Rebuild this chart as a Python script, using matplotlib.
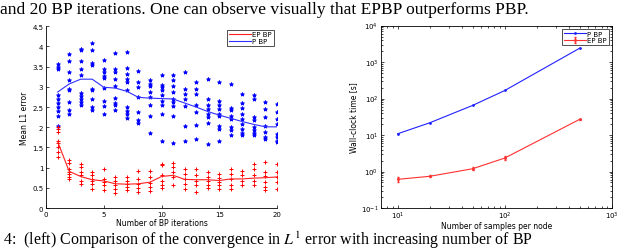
#!/usr/bin/env python3
import matplotlib
matplotlib.use("Agg")
import matplotlib.pyplot as plt
import numpy as np

# ---- left panel: L1 error vs BP iterations ----
iterations = list(range(1, 21))

pbp_samples = [
    [3.56, 3.49, 3.43, 2.81, 2.70, 2.61, 2.50, 2.39, 2.28, 2.02],
    [3.82, 3.63, 3.36, 3.16, 2.95, 2.92, 2.62, 2.42, 2.33],
    [3.94, 3.92, 3.65, 3.45, 3.30, 2.84, 2.78, 2.70, 2.62, 2.54],
    [4.08, 3.92, 3.59, 3.55, 2.95, 2.91, 2.70, 2.51, 2.42],
    [3.67, 3.45, 3.36, 3.26, 3.22, 2.97, 2.66, 2.52, 2.33],
    [3.84, 3.43, 3.38, 3.20, 3.03, 2.72, 2.60, 2.54, 2.43],
    [3.87, 3.46, 3.32, 3.20, 3.12, 2.93, 2.50, 2.40, 2.32, 2.23],
    [3.40, 3.12, 2.99, 2.76, 2.37, 2.17, 2.11],
    [3.18, 3.08, 3.02, 2.87, 2.75, 2.54, 2.29, 1.85],
    [3.30, 3.05, 2.99, 2.91, 2.79, 2.66, 2.54, 2.33, 1.67],
    [3.30, 3.16, 3.02, 2.87, 2.70, 2.62, 2.52, 2.28, 1.62],
    [3.36, 2.95, 2.83, 2.70, 2.52, 2.04, 1.67],
    [3.12, 2.95, 2.83, 2.54, 2.37, 2.06, 1.71],
    [3.20, 2.70, 2.56, 2.46, 2.33, 2.25, 2.10, 1.59],
    [3.12, 2.66, 2.56, 2.46, 2.33, 2.28, 2.03, 1.96, 1.67],
    [3.08, 2.47, 2.42, 2.29, 2.21, 2.00, 1.92, 1.81],
    [2.83, 2.60, 2.47, 2.33, 2.21, 2.09, 1.96, 1.86, 1.81],
    [2.80, 2.70, 2.25, 2.17, 2.00, 1.92, 1.85, 1.80],
    [2.62, 2.46, 2.25, 2.04, 1.88, 1.76, 1.71],
    [2.58, 2.37, 2.21, 2.09, 1.84, 1.76, 1.67, 1.63],
]
pbp_mean = [2.87, 3.07, 3.19, 3.19, 2.99, 2.97, 2.89, 2.74, 2.72, 2.71,
            2.70, 2.60, 2.50, 2.39, 2.30, 2.22, 2.14, 2.07, 2.01, 2.01]

epbp_samples = [
    [2.00, 1.95, 1.88, 1.67, 1.62, 1.51, 1.39, 1.26],
    [1.18, 1.11, 0.97, 0.89, 0.85, 0.77, 0.73],
    [1.10, 1.01, 0.89, 0.81, 0.68, 0.60],
    [0.89, 0.81, 0.73, 0.68, 0.60, 0.48],
    [0.97, 0.73, 0.64, 0.56, 0.44],
    [0.77, 0.68, 0.58, 0.48, 0.38],
    [0.77, 0.68, 0.60, 0.52, 0.44],
    [0.91, 0.73, 0.60, 0.49, 0.40],
    [0.91, 0.77, 0.63, 0.52, 0.41],
    [1.10, 1.06, 0.81, 0.68, 0.56, 0.49],
    [1.11, 1.01, 0.89, 0.77, 0.56],
    [0.97, 0.85, 0.73, 0.60, 0.48],
    [0.97, 0.81, 0.68, 0.56, 0.40],
    [0.89, 0.77, 0.66, 0.58, 0.49],
    [0.85, 0.74, 0.64, 0.56, 0.46],
    [0.97, 0.85, 0.73, 0.56, 0.46],
    [0.91, 0.81, 0.68, 0.56],
    [1.10, 0.97, 0.81, 0.68, 0.56],
    [1.15, 0.89, 0.79, 0.64, 0.52, 0.44],
    [1.10, 0.89, 0.77, 0.64, 0.48],
]
epbp_mean = [1.65, 0.91, 0.78, 0.70, 0.67, 0.60, 0.59, 0.60, 0.64, 0.78,
             0.81, 0.71, 0.70, 0.70, 0.68, 0.72, 0.72, 0.74, 0.75, 0.77]

# ---- right panel: wall-clock time vs samples per node ----
samples_per_node = [10, 20, 50, 100, 500]
pbp_time = [10.8, 21.7, 64.6, 166, 2400]
epbp_time = [0.61, 0.74, 1.19, 2.34, 27]
epbp_err_lo = [0.08, 0.05, 0.12, 0.25, 1.0]
epbp_err_hi = [0.10, 0.06, 0.15, 0.30, 1.0]

plt.rcParams['mathtext.fontset'] = 'stix'
fig = plt.figure(figsize=(6.4, 2.51), dpi=100)

tick_fs = 5
label_fs = 5.5

# left axes
ax1 = fig.add_axes([0.0719, 0.1673, 0.3609, 0.724])
for x, ys in zip(iterations, pbp_samples):
    ax1.plot([x] * len(ys), ys, linestyle='none', marker='*', color='#0000ff',
             markersize=3, markeredgewidth=0.6)
for x, ys in zip(iterations, epbp_samples):
    ax1.plot([x] * len(ys), ys, linestyle='none', marker='+', color='#ff0000',
             markersize=3.5, markeredgewidth=0.7)
ax1.plot(iterations, epbp_mean, color='#ff2020', lw=0.8, label='EP BP')
ax1.plot(iterations, pbp_mean, color='#3030ff', lw=0.8, label='P BP')
ax1.set_xlim(0, 20)
ax1.set_ylim(0, 4.5)
ax1.set_xticks([0, 5, 10, 15, 20])
ax1.set_yticks(np.arange(0, 4.51, 0.5))
ax1.set_yticklabels(['0', '0.5', '1', '1.5', '2', '2.5', '3', '3.5', '4', '4.5'])
ax1.spines['top'].set_visible(False)
ax1.spines['right'].set_visible(False)
ax1.tick_params(direction='in', labelsize=tick_fs, length=2, width=0.5, pad=2)
for s in ax1.spines.values():
    s.set_linewidth(0.6)
ax1.set_xlabel('Number of BP iterations', fontsize=label_fs, labelpad=1)
ax1.set_ylabel('Mean L1 error', fontsize=label_fs, labelpad=2)
leg1 = ax1.legend(loc='upper right', fontsize=5, frameon=True, fancybox=False,
                  edgecolor='black', handlelength=3.2, handletextpad=0.2,
                  borderpad=0.25, labelspacing=0.1, borderaxespad=0.5)
leg1.get_frame().set_linewidth(0.6)

# right axes
ax2 = fig.add_axes([0.5953, 0.1673, 0.361, 0.727])
ax2.plot(samples_per_node, pbp_time, color='#2020ff', lw=0.8, marker='.',
         markersize=2, label='P BP')
ax2.errorbar(samples_per_node, epbp_time, yerr=[epbp_err_lo, epbp_err_hi],
             color='#ff3030', lw=0.8, marker='.', markersize=2, capsize=1,
             elinewidth=1.0, label='EP BP')
ax2.set_xscale('log')
ax2.set_yscale('log')
ax2.set_xlim(7, 1000)
ax2.set_ylim(0.1, 1e4)
ax2.set_xticks([10, 100, 1000])
ax2.set_yticks([0.1, 1, 10, 100, 1000, 10000])
ax2.tick_params(which='both', direction='in', top=True, right=True,
                labelsize=tick_fs, width=0.5, pad=2)
ax2.tick_params(axis='x', which='both', pad=1.5)
ax2.tick_params(which='major', length=2.5)
ax2.tick_params(which='minor', length=1.3)
for s in ax2.spines.values():
    s.set_linewidth(0.6)
ax2.set_xlabel('Number of samples per node', fontsize=label_fs, labelpad=0)
ax2.set_ylabel('Wall-clock time [s]', fontsize=label_fs, labelpad=2)
handles, labels = ax2.get_legend_handles_labels()
leg2 = ax2.legend(handles, labels, loc='upper right', fontsize=5, frameon=True,
                  fancybox=False, edgecolor='black', handlelength=3.2,
                  handletextpad=0.2, borderpad=0.25, labelspacing=0.1,
                  borderaxespad=0.5)
leg2.get_frame().set_linewidth(0.6)

# surrounding caption text of the page
fig.text(0.0, 1 - 14 / 251,
         'and 20 BP iterations. One can observe visually that EPBP outperforms PBP.',
         fontsize=12.5, family='Liberation Serif', va='baseline', ha='left')
fig.text(0.005, 1 - 245.5 / 251,
         '4:  (left) Comparison of the convergence in $L^1$ error with increasing number of BP',
         fontsize=11.5, family='Liberation Serif', va='baseline', ha='left')

fig.savefig('out.png', dpi=100)
